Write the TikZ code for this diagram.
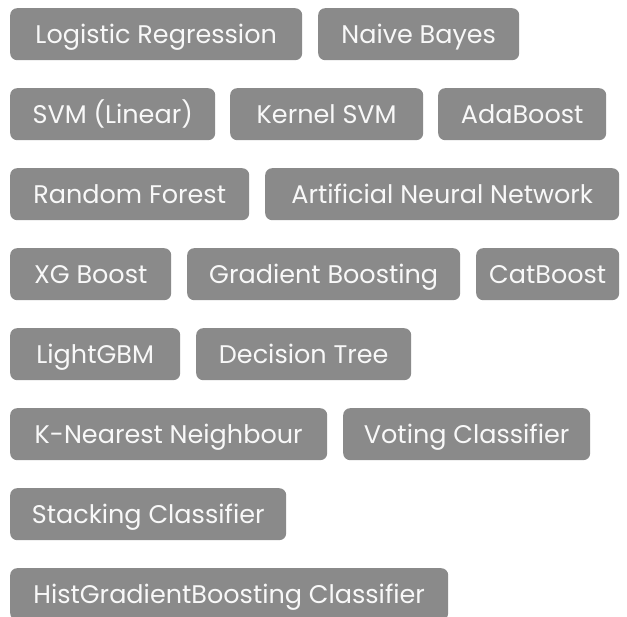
\documentclass[tikz,border=0pt]{standalone}
\usepackage{fontspec}
\setmainfont{Poppins}
\definecolor{taggray}{HTML}{8A8A8A}
\definecolor{tagtext}{HTML}{F8F8F8}
\tikzset{
  tag/.style={fill=taggray, rounded corners=7pt, anchor=north west, inner sep=0pt,
    minimum height=52pt, text=tagtext, font=\fontsize{25.5}{30}\selectfont,
    text height=18pt, text depth=0pt}
}
\begin{document}
\begin{tikzpicture}[x=1pt,y=-1pt]
\useasboundingbox (0,0) rectangle (627,617);
\clip (0,0) rectangle (627,617);
\fill[white] (0,0) rectangle (627,617);
\node[tag, minimum width=292pt] (lr) at (10,8) {Logistic Regression};
\node[tag, minimum width=201pt] (nb) at (318,8) {Naive Bayes};
\node[tag, minimum width=205pt] (svm) at (10,88) {SVM (Linear)};
\node[tag, minimum width=193pt] (ksvm) at (230,88) {Kernel SVM};
\node[tag, minimum width=168pt] (ada) at (438,88) {AdaBoost};
\node[tag, minimum width=239pt] (rf) at (10,168) {Random Forest};
\node[tag, minimum width=354pt] (ann) at (265,168) {Artificial Neural Network};
\node[tag, minimum width=161pt] (xgb) at (10,248) {XG Boost};
\node[tag, minimum width=273pt] (gb) at (187,248) {Gradient Boosting};
\node[tag, minimum width=143pt] (cat) at (476,248) {CatBoost};
\node[tag, minimum width=170pt] (lgbm) at (10,328) {LightGBM};
\node[tag, minimum width=215pt] (dt) at (196,328) {Decision Tree};
\node[tag, minimum width=317pt] (knn) at (10,408) {K-Nearest Neighbour};
\node[tag, minimum width=247pt] (vc) at (343,408) {Voting Classifier};
\node[tag, minimum width=276pt] (sc) at (10,488) {Stacking Classifier};
\node[tag, minimum width=438pt] (hgb) at (10,568) {HistGradientBoosting Classifier};
\end{tikzpicture}
\end{document}
